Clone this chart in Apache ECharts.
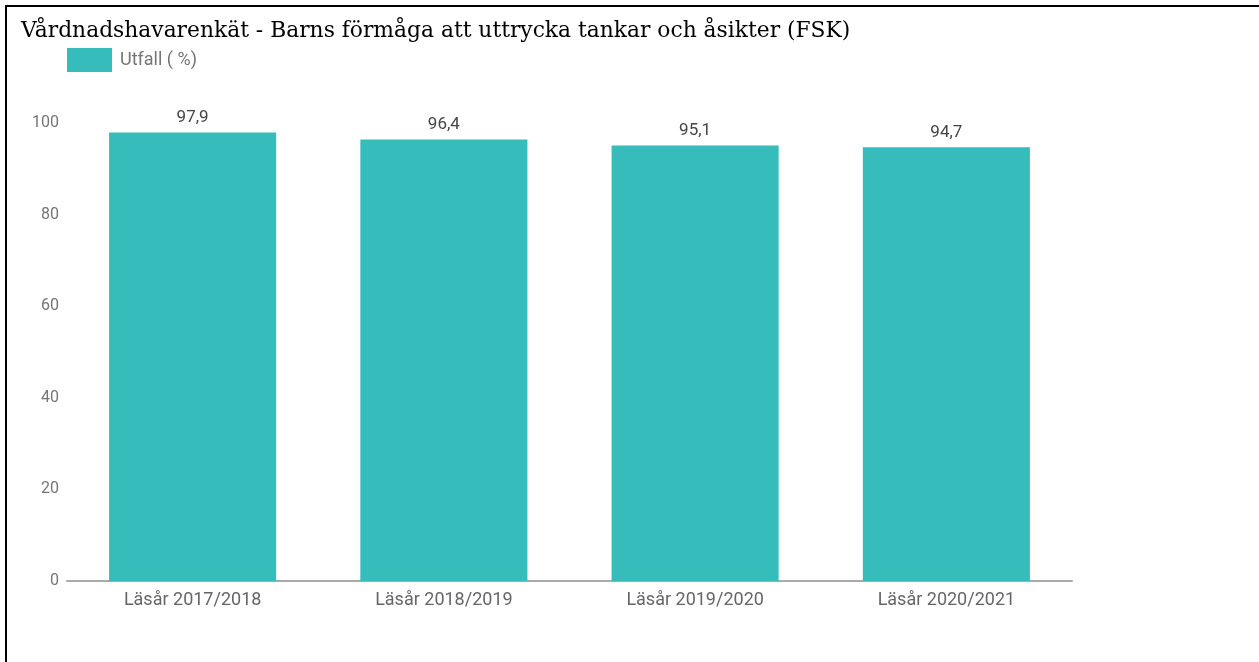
<!DOCTYPE html>
<html>
<head>
<meta charset="utf-8">
<script src="https://cdn.jsdelivr.net/npm/echarts@6/dist/echarts.min.js"></script>
<style>
html,body{margin:0;padding:0;background:#fff;}
#frame{position:absolute;left:5px;top:5px;width:1254px;height:657px;border-left:2px solid #000;border-top:2px solid #000;box-sizing:border-box;}
#chart{position:absolute;left:0;top:0;width:1259px;height:662px;}
</style>
</head>
<body>
<div id="frame"></div>
<div id="chart"></div>
<script>
const titleText = "Vårdnadshavarenkät - Barns förmåga att uttrycka tankar och åsikter (FSK)";
const seriesName = "Utfall ( %)";
const categories = ["Läsår 2017/2018", "Läsår 2018/2019", "Läsår 2019/2020", "Läsår 2020/2021"];
const values = [97.9, 96.4, 95.1, 94.7];
const yTicks = [0, 20, 40, 60, 80, 100];

const chart = echarts.init(document.getElementById('chart'));
chart.setOption({
  animation: false,
  backgroundColor: 'transparent',
  title: {
    text: titleText,
    left: 16, top: 15,
    textStyle: { fontFamily: 'DejaVu Serif', fontWeight: 'normal', fontSize: 21.8, color: '#000' }
  },
  legend: {
    left: 62, top: 43,
    itemWidth: 45, itemHeight: 24, itemGap: 8,
    icon: 'rect',
    textStyle: { fontFamily: 'Roboto', fontSize: 18, color: '#757575', padding: [0, 0, 0, 3] },
    data: [seriesName]
  },
  grid: { left: 67, right: 187, top: 123, bottom: 81, containLabel: false },
  xAxis: {
    type: 'category',
    data: categories,
    axisLine: { lineStyle: { color: '#aaaaaa', width: 2 } },
    axisTick: { show: false },
    axisLabel: { fontFamily: 'Roboto', fontSize: 18, color: '#666', margin: 10 }
  },
  yAxis: {
    type: 'value',
    min: 0, max: 100, interval: 20,
    axisLine: { show: false },
    axisTick: { show: false },
    splitLine: { show: false },
    axisLabel: {
      fontFamily: 'Roboto', fontSize: 16, color: '#757575', margin: 8,
      formatter: v => yTicks.includes(v) ? String(v) : ''
    }
  },
  series: [{
    name: seriesName,
    type: 'bar',
    data: values,
    barWidth: '66.5%',
    itemStyle: { color: '#37bcbc' },
    label: {
      show: true, position: 'top', distance: 6,
      fontFamily: 'Roboto', fontSize: 17, color: '#444',
      formatter: p => String(p.value).replace('.', ',')
    }
  }]
});
</script>
</body>
</html>
